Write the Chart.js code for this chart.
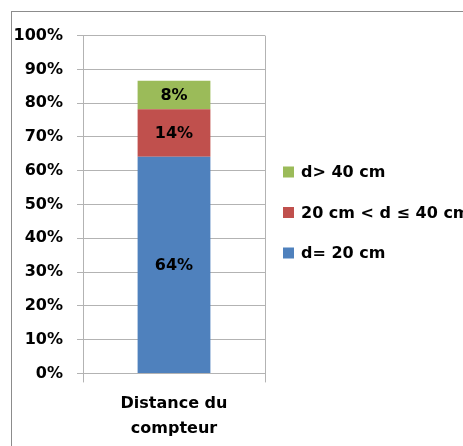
<!DOCTYPE html>
<html>
<head>
<meta charset="utf-8">
<script src="https://cdn.jsdelivr.net/npm/chart.js@4/dist/chart.umd.min.js"></script>
<style>
  html, body { margin: 0; padding: 0; background: #fff; overflow: hidden; }
  #frame { position: absolute; left: 11px; top: 11px; width: 470px; height: 450px;
           border: 1px solid #8c8c8c; background: #fff; }
  #wrap { position: absolute; left: 0; top: 0; width: 451px; height: 438px; }
</style>
</head>
<body>
<div id="frame"><div id="wrap"><canvas id="barChart"></canvas></div></div>
<script>
// category of the single bar
var categories = [['Distance du', 'compteur']];

// series, in stacking order from the bottom
var seriesNames = ['d= 20 cm', '20 cm < d \u2264 40 cm', 'd> 40 cm'];
var seriesValues = [[64.1], [14.1], [8.4]];
var seriesColors = ['#4F81BD', '#C0504D', '#9BBB59'];

// y axis ticks
var yTicks = [0, 10, 20, 30, 40, 50, 60, 70, 80, 90, 100];

var fontFamily = '"DejaVu Sans", sans-serif';
var boldFont = 'bold 16px ' + fontFamily;

var datasets = [];
for (var i = 0; i < seriesNames.length; i++) {
  datasets.push({
    label: seriesNames[i],
    data: seriesValues[i],
    backgroundColor: seriesColors[i],
    borderWidth: 0,
    categoryPercentage: 1,
    barPercentage: 0.4
  });
}

// draws the rounded percentage inside each segment
var valueLabels = {
  id: 'valueLabels',
  afterDatasetsDraw: function(chart) {
    var ctx = chart.ctx;
    ctx.save();
    ctx.font = boldFont;
    ctx.fillStyle = '#000';
    ctx.textAlign = 'center';
    ctx.textBaseline = 'middle';
    chart.data.datasets.forEach(function(ds, di) {
      chart.getDatasetMeta(di).data.forEach(function(bar, j) {
        var mid = (bar.y + bar.base) / 2;
        ctx.fillText(Math.round(ds.data[j]) + '%', bar.x, mid + 1);
      });
    });
    ctx.restore();
  }
};

// legend on the right, top series first (like the reference)
var sideLegend = {
  id: 'sideLegend',
  afterDraw: function(chart) {
    var ctx = chart.ctx;
    var area = chart.chartArea;
    var n = chart.data.datasets.length;
    var step = 40.5;
    var cy = (area.top + area.bottom) / 2 + 8 - step * (n - 1) / 2;
    ctx.save();
    ctx.font = boldFont;
    ctx.textBaseline = 'middle';
    for (var k = n - 1; k >= 0; k--) {
      var ds = chart.data.datasets[k];
      var y = cy + (n - 1 - k) * step;
      ctx.fillStyle = ds.backgroundColor;
      ctx.fillRect(area.right + 18, y - 5.5, 11, 11);
      ctx.fillStyle = '#000';
      ctx.fillText(ds.label, area.right + 36, y + 1);
    }
    ctx.restore();
  }
};

new Chart(document.getElementById('barChart'), {
  type: 'bar',
  data: { labels: categories, datasets: datasets },
  plugins: [valueLabels, sideLegend],
  options: {
    responsive: true,
    maintainAspectRatio: false,
    animation: false,
    layout: { padding: { top: 7, left: 2, right: 198, bottom: 0 } },
    plugins: {
      tooltip: { enabled: false },
      legend: { display: false }
    },
    scales: {
      x: {
        stacked: true,
        grid: { offset: true, color: '#b3b3b3', tickLength: 9 },
        border: { color: '#b3b3b3' },
        ticks: {
          color: '#000',
          padding: 9,
          font: { family: fontFamily, size: 16, weight: 'bold', lineHeight: 1.55 }
        }
      },
      y: {
        stacked: true,
        min: 0,
        max: 100,
        afterBuildTicks: function(axis) {
          axis.ticks = yTicks.map(function(v) { return { value: v }; });
        },
        afterFit: function(axis) { axis.width = 69; },
        grid: { color: '#b3b3b3', tickLength: 6 },
        border: { color: '#b3b3b3' },
        ticks: {
          color: '#000',
          padding: 14,
          font: { family: fontFamily, size: 16, weight: 'bold' },
          callback: function(v) { return v + '%'; }
        }
      }
    }
  }
});
</script>
</body>
</html>
